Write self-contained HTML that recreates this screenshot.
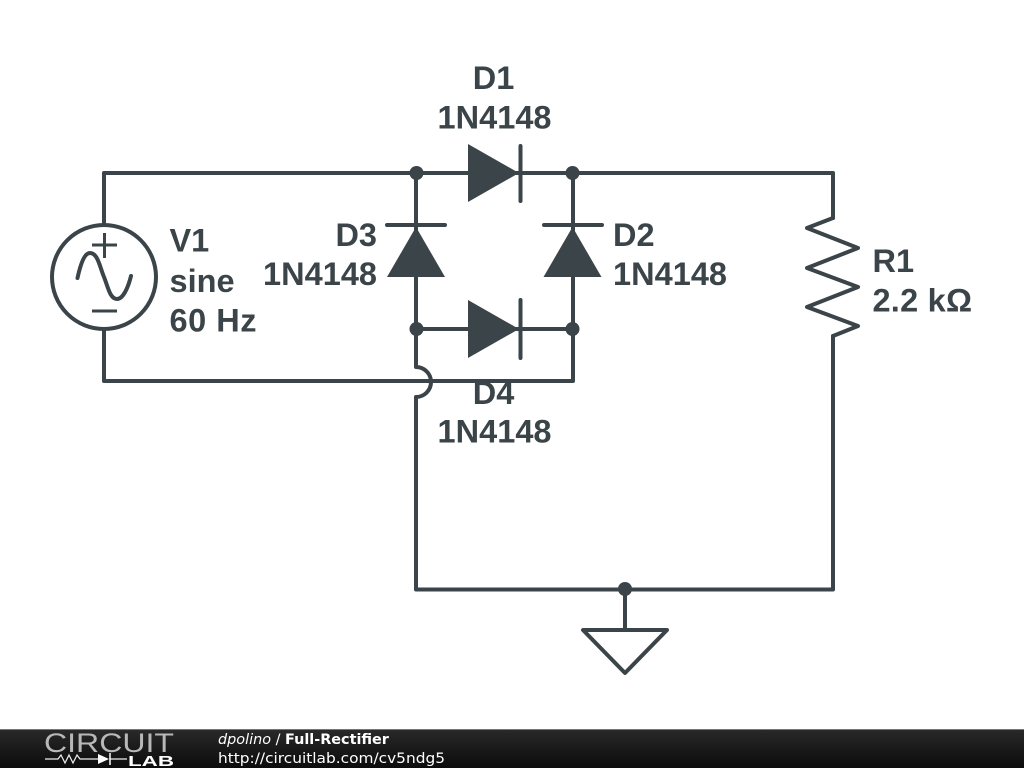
<!DOCTYPE html>
<html>
<head>
<meta charset="utf-8">
<style>
html,body{margin:0;padding:0;background:#fff;width:1024px;height:768px;overflow:hidden}
svg{display:block}
.l{font-family:"Liberation Sans",sans-serif;font-weight:bold;font-size:32.500px;fill:#3b4449}
.f{font-family:"DejaVu Sans",sans-serif;font-size:14.400px;fill:#fff}
</style>
</head>
<body>
<svg width="1024" height="768" viewBox="0 0 1024 768" xmlns="http://www.w3.org/2000/svg">
<defs>
<linearGradient id="g" x1="0" y1="0" x2="0" y2="1">
<stop offset="0" stop-color="#2a2a2a"/>
<stop offset="0.5" stop-color="#1a1a1a"/>
<stop offset="1" stop-color="#0c0c0c"/>
</linearGradient>
</defs>
<rect width="1024" height="768" fill="#fff"/>
<g fill="none" stroke="#3b4449" stroke-width="4" stroke-linecap="round" stroke-linejoin="round">
<!-- wires -->
<path d="M104 225V173H833V218"/>
<path d="M104 329V381H573V173"/>
<path d="M416 173V367A15 15 0 0 1 416 397V589.500H833V336"/>
<path d="M416 329H573"/>
<path d="M625 589V630"/>
<!-- ground -->
<path d="M583 630H667L625 673Z"/>
<!-- resistor -->
<path d="M833 218L807 228L858 248L807 268L858 287L807 307L858 326L833 336"/>
<!-- source -->
<circle cx="104" cy="277" r="52" fill="#fff"/>
<path d="M77.500 278C81 262 85 253 90 253C98 253 100 268 104 277C108 287 110 299 117 299C123 299 128 288 131 276"/>
<!-- diode bars -->
<path d="M520.500 146V201M520.500 300V358M387 225H445M544 225H602"/>
</g>
<path d="M92 245H117M104.500 233V258M92 311H117" fill="none" stroke="#3b4449" stroke-width="3"/>
<g fill="#3b4449">
<polygon points="468,144 519,173 468,202"/>
<polygon points="468,300 519,329 468,358"/>
<polygon points="416,227 445,277 387,277"/>
<polygon points="572.500,227 601.500,277 543.500,277"/>
<circle cx="416.500" cy="173" r="7"/>
<circle cx="572.500" cy="173" r="7"/>
<circle cx="416.500" cy="329" r="7"/>
<circle cx="572.500" cy="329" r="7"/>
<circle cx="625" cy="589" r="7"/>
</g>
<!-- labels -->
<text class="l" x="493.500" y="89" text-anchor="middle">D1</text>
<text class="l" x="494.500" y="128.500" text-anchor="middle" textLength="114">1N4148</text>
<text class="l" x="493.500" y="404" text-anchor="middle">D4</text>
<text class="l" x="494.500" y="442.500" text-anchor="middle" textLength="114">1N4148</text>
<text class="l" x="377" y="246" text-anchor="end">D3</text>
<text class="l" x="377" y="285" text-anchor="end" textLength="114">1N4148</text>
<text class="l" x="613" y="246">D2</text>
<text class="l" x="613" y="285" textLength="114">1N4148</text>
<text class="l" x="169.500" y="251.500">V1</text>
<text class="l" x="169.500" y="292">sine</text>
<text class="l" x="169.500" y="331.500" textLength="87">60 Hz</text>
<text class="l" x="872.500" y="272">R1</text>
<text class="l" x="872.500" y="311.500" textLength="99.500">2.2 kΩ</text>
<!-- footer -->
<rect x="0" y="729" width="1024" height="39" fill="url(#g)"/>
<rect x="0" y="729" width="1024" height="1" fill="#777"/>
<text x="44" y="752" font-family="'Liberation Sans',sans-serif" font-size="27" fill="#b8b8b8" textLength="130" lengthAdjust="spacingAndGlyphs">CIRCUIT</text>
<path d="M45 759H58L61 755L65 763L69 755L73 763L77 755L80 759H98M110 759H127" fill="none" stroke="#eee" stroke-width="1.200"/>
<polygon points="98,754 109,759 98,764" fill="#fff"/>
<path d="M110 753V765" stroke="#fff" stroke-width="1.500"/>
<text x="128" y="766" font-family="'Liberation Sans',sans-serif" font-weight="bold" font-size="15" fill="#fff" textLength="46" lengthAdjust="spacingAndGlyphs">LAB</text>
<text class="f" x="218" y="744"><tspan font-style="italic">dpolino</tspan> / <tspan font-weight="bold">Full-Rectifier</tspan></text>
<text class="f" x="218" y="763" textLength="227" lengthAdjust="spacingAndGlyphs">http://circuitlab.com/cv5ndg5</text>
</svg>
</body>
</html>
